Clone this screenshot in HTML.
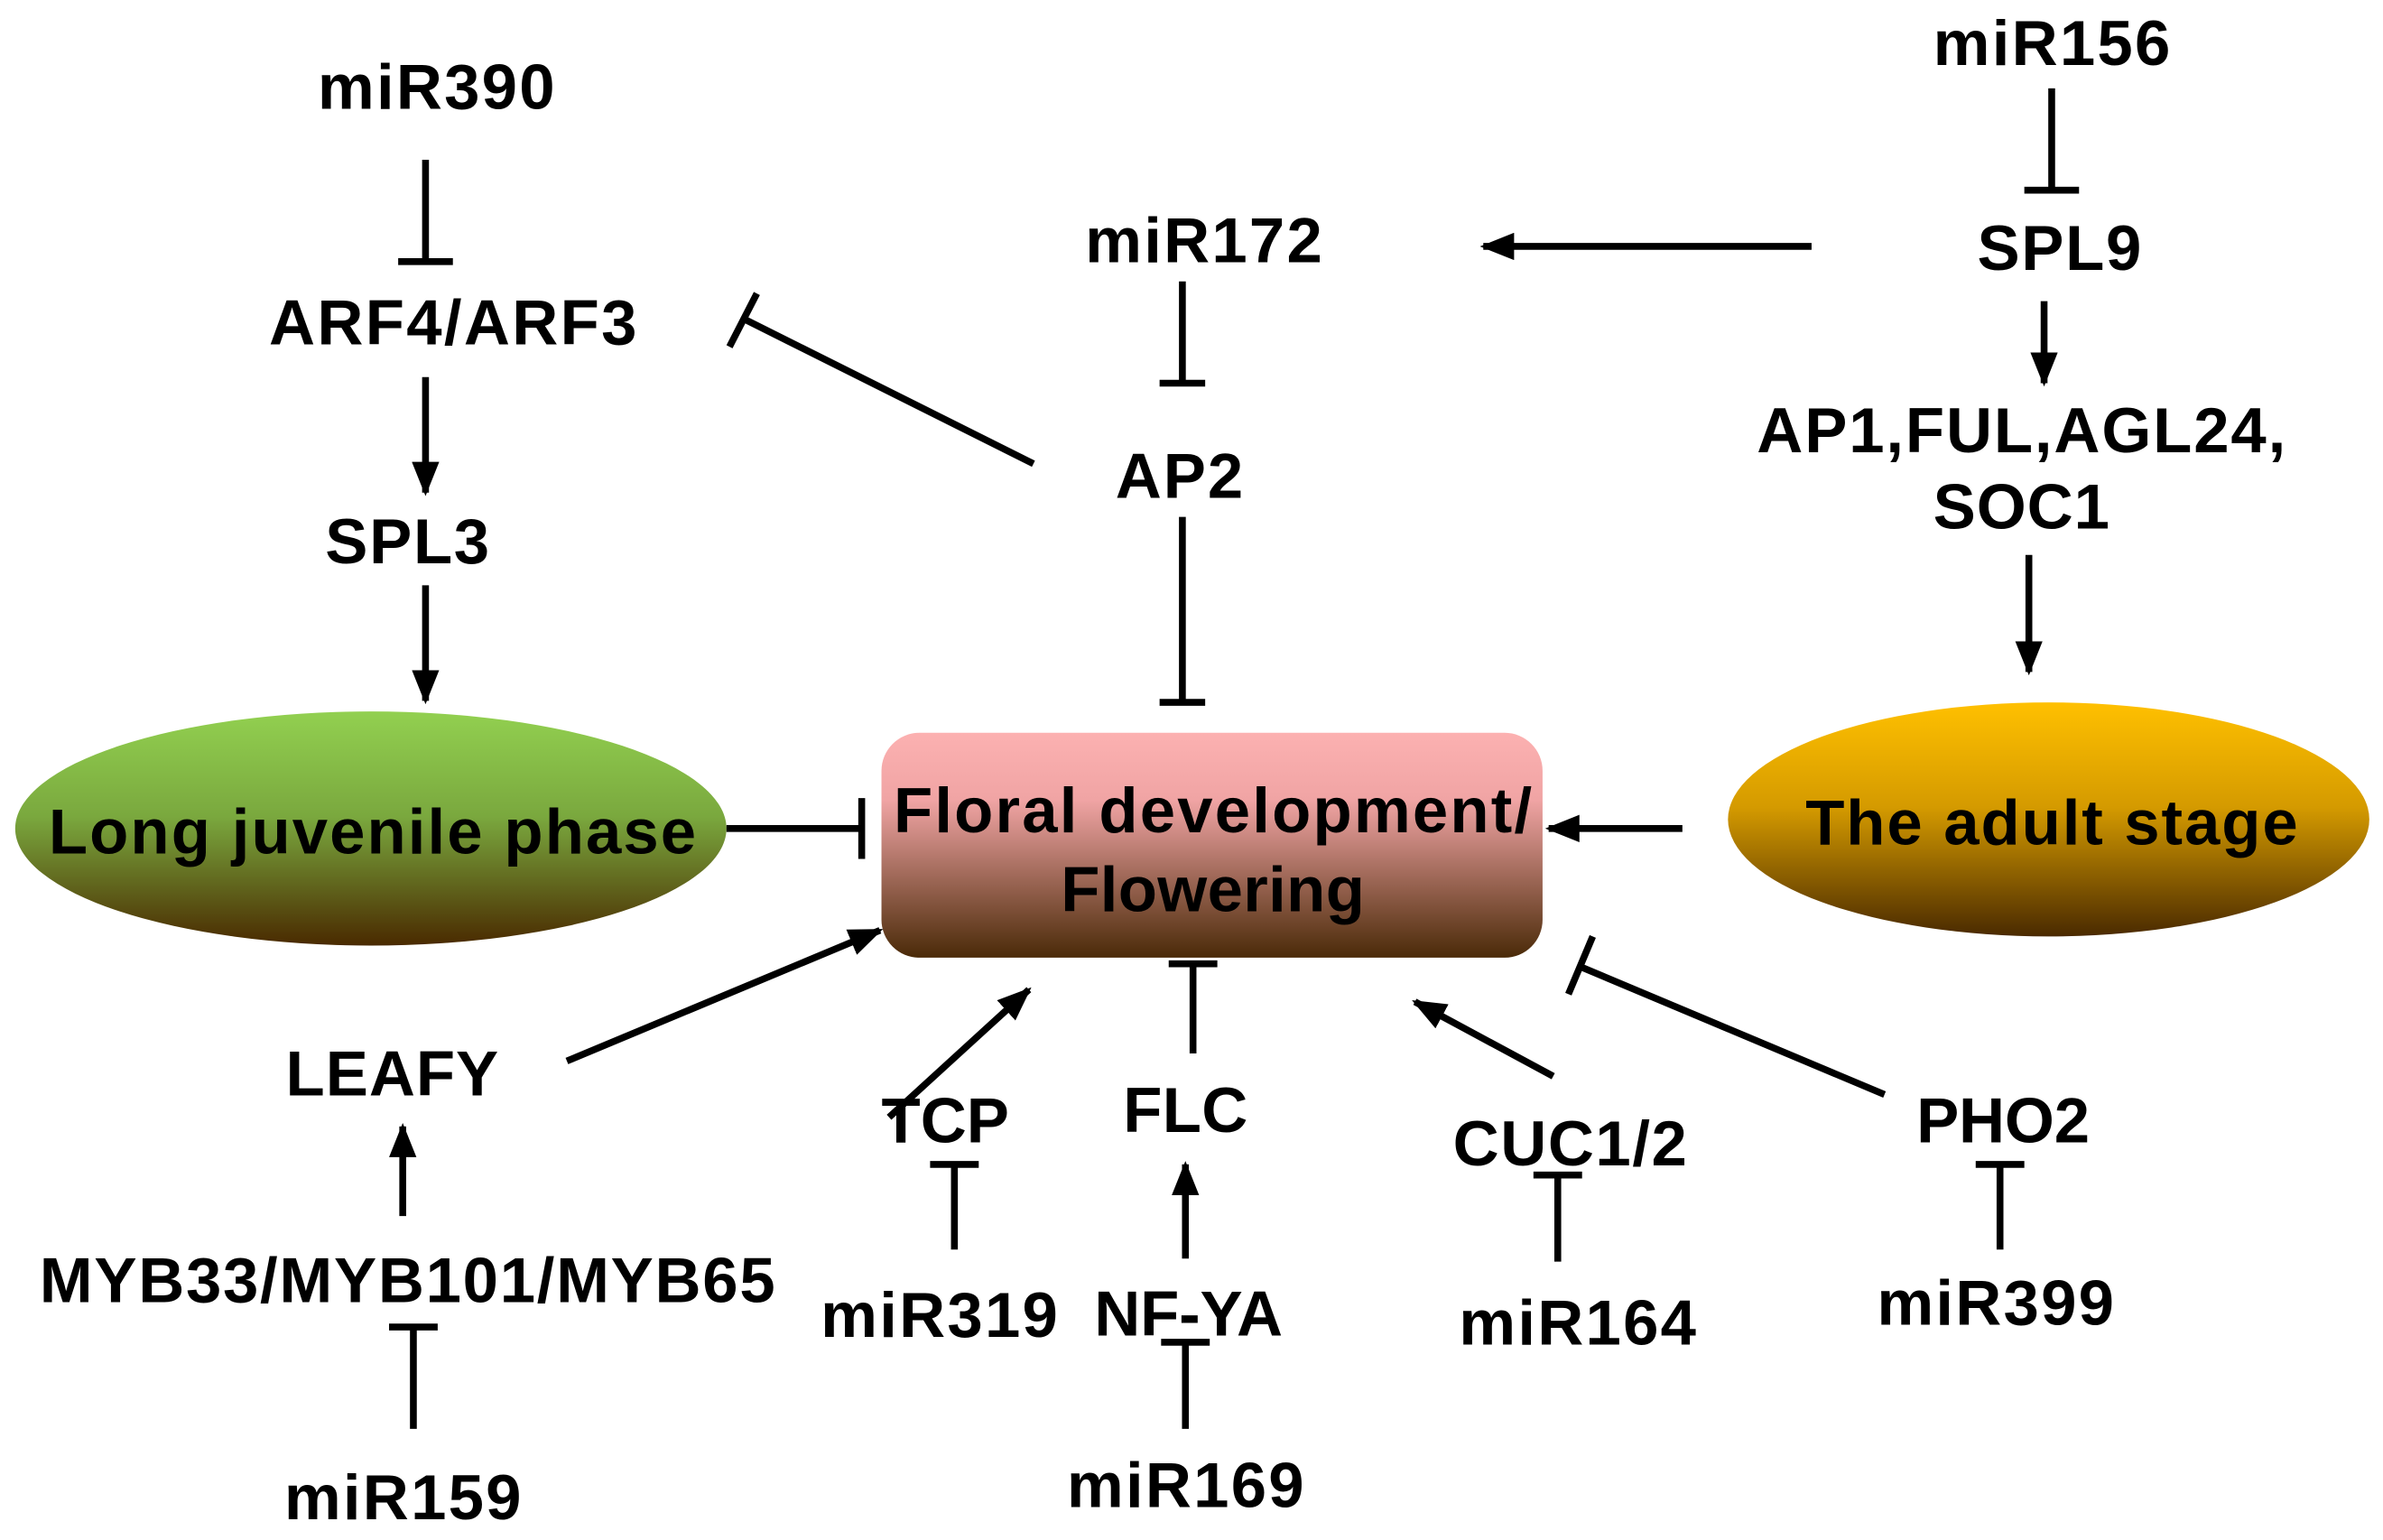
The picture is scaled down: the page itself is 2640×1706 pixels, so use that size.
<!DOCTYPE html>
<html><head><meta charset="utf-8"><style>
html,body{margin:0;padding:0;background:#fff;}
svg{display:block;}
text{font-family:"Liberation Sans",Arial,sans-serif;font-weight:bold;font-size:42px;text-anchor:middle;dominant-baseline:central;fill:#000;}
</style></head><body>
<svg width="2640" height="1706" viewBox="0 0 1568 1013" xmlns="http://www.w3.org/2000/svg">
<defs>
<linearGradient id="g1" x1="0" y1="0" x2="0" y2="1"><stop offset="0" stop-color="#92d050"/><stop offset="0.45" stop-color="#7aa83e"/><stop offset="1" stop-color="#4a2a00"/></linearGradient>
<linearGradient id="g2" x1="0" y1="0" x2="0" y2="1"><stop offset="0" stop-color="#ffc000"/><stop offset="0.45" stop-color="#d49a00"/><stop offset="1" stop-color="#4a2a00"/></linearGradient>
<linearGradient id="g3" x1="0" y1="0" x2="0" y2="1"><stop offset="0" stop-color="#fcb1b1"/><stop offset="0.3" stop-color="#f0a4a4"/><stop offset="1" stop-color="#4a2a08"/></linearGradient>
<marker id="a" markerWidth="5" markerHeight="4" refX="4.5" refY="2" orient="auto" markerUnits="strokeWidth"><path d="M0,0 L5,2 L0,4 z" fill="#000"/></marker>
</defs>
<g stroke="#000" stroke-width="4.5" fill="none">
<ellipse cx="244" cy="545" rx="234" ry="77" fill="url(#g1)" stroke="none"/>
<ellipse cx="1348" cy="539" rx="211" ry="77" fill="url(#g2)" stroke="none"/>
<rect x="580" y="482" width="435" height="148" rx="25" fill="url(#g3)" stroke="none"/>
<line x1="280" y1="105" x2="280" y2="172"/><line x1="262" y1="172" x2="298" y2="172"/>
<line x1="778" y1="185" x2="778" y2="252"/><line x1="763" y1="252" x2="793" y2="252"/>
<line x1="778" y1="340" x2="778" y2="462"/><line x1="763" y1="462" x2="793" y2="462"/>
<line x1="680" y1="305" x2="490" y2="210"/><line x1="480" y1="228" x2="498" y2="193"/>
<line x1="1350" y1="58" x2="1350" y2="125"/><line x1="1332" y1="125" x2="1368" y2="125"/>
<line x1="478" y1="545" x2="567" y2="545"/><line x1="567" y1="525" x2="567" y2="565"/>
<line x1="272" y1="940" x2="272" y2="873"/><line x1="256" y1="873" x2="288" y2="873"/>
<line x1="628" y1="822" x2="628" y2="766"/><line x1="612" y1="766" x2="644" y2="766"/>
<line x1="785" y1="693" x2="785" y2="634"/><line x1="769" y1="634" x2="801" y2="634"/>
<line x1="780" y1="940" x2="780" y2="883"/><line x1="764" y1="883" x2="796" y2="883"/>
<line x1="1025" y1="830" x2="1025" y2="773"/><line x1="1009" y1="773" x2="1041" y2="773"/>
<line x1="1240" y1="720" x2="1040" y2="636"/><line x1="1032" y1="654" x2="1048" y2="616"/>
<line x1="1316" y1="822" x2="1316" y2="766"/><line x1="1300" y1="766" x2="1332" y2="766"/>
<line x1="280" y1="248" x2="280" y2="324" marker-end="url(#a)"/>
<line x1="280" y1="385" x2="280" y2="461" marker-end="url(#a)"/>
<line x1="1192" y1="162" x2="976" y2="162" marker-end="url(#a)"/>
<line x1="1345" y1="198" x2="1345" y2="252" marker-end="url(#a)"/>
<line x1="1335" y1="365" x2="1335" y2="442" marker-end="url(#a)"/>
<line x1="1107" y1="545" x2="1019" y2="545" marker-end="url(#a)"/>
<line x1="373" y1="698" x2="579" y2="612" marker-end="url(#a)"/>
<line x1="265" y1="800" x2="265" y2="741" marker-end="url(#a)"/>
<line x1="585" y1="735" x2="677" y2="651" marker-end="url(#a)"/>
<line x1="780" y1="828" x2="780" y2="766" marker-end="url(#a)"/>
<line x1="1022" y1="708" x2="931" y2="659" marker-end="url(#a)"/>
</g>
<text x="287" y="57" textLength="156">miR390</text>
<text x="298" y="212" textLength="242">ARF4/ARF3</text>
<text x="268" y="356" textLength="108">SPL3</text>
<text x="245" y="547" font-size="40" textLength="426">Long juvenile phase</text>
<text x="798" y="533" font-size="40" textLength="420">Floral development/</text>
<text x="798" y="585" font-size="40" textLength="200">Flowering</text>
<text x="792" y="158" textLength="156">miR172</text>
<text x="776" y="313" textLength="84">AP2</text>
<text x="1350" y="28" textLength="156">miR156</text>
<text x="1355" y="163" textLength="108">SPL9</text>
<text x="1330" y="283" textLength="348">AP1,FUL,AGL24,</text>
<text x="1330" y="333" textLength="116">SOC1</text>
<text x="1350" y="541" font-size="40" textLength="324">The adult stage</text>
<text x="258" y="706" textLength="140">LEAFY</text>
<text x="268" y="842" font-size="40" textLength="484">MYB33/MYB101/MYB65</text>
<text x="265" y="985" textLength="156">miR159</text>
<text x="622" y="737" textLength="84">TCP</text>
<text x="618" y="865" textLength="156">miR319</text>
<text x="780" y="730" textLength="82">FLC</text>
<text x="782" y="864" textLength="124">NF-YA</text>
<text x="780" y="977" textLength="156">miR169</text>
<text x="1033" y="752" textLength="154">CUC1/2</text>
<text x="1038" y="870" textLength="156">miR164</text>
<text x="1318" y="737" textLength="114">PHO2</text>
<text x="1313" y="857" textLength="156">miR399</text>
</svg>
</body></html>
